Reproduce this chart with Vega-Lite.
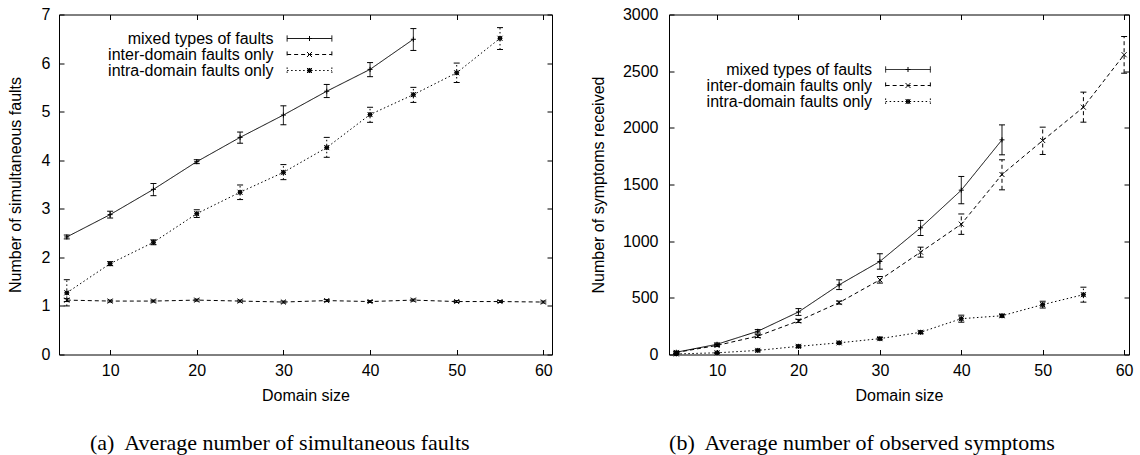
{
  "$schema": "https://vega.github.io/schema/vega-lite/v6.json",
  "padding": {"left": 6, "top": 5.5, "right": 0, "bottom": 0},
  "background": "white",
  "config": {
    "font": "Liberation Sans",
    "view": {"stroke": "black", "strokeWidth": 1},
    "axis": {"grid": false, "domain": false, "labelFontSize": 16, "titleFontSize": 16, "titleFontWeight": "normal", "labelColor": "black", "titleColor": "black", "tickColor": "black", "tickWidth": 1, "labelFont": "Liberation Sans", "titleFont": "Liberation Sans"},
    "legend": {"labelFontSize": 16, "labelColor": "black", "labelFont": "Liberation Sans", "labelLimit": 400},
    "title": {"font": "Liberation Serif", "fontSize": 22, "fontWeight": "normal", "color": "black"}
  },
  "datasets": {
    "a": [
      {"series": "mixed types of faults", "x": 5, "y": 2.42, "lo": 2.38, "hi": 2.46},
      {"series": "mixed types of faults", "x": 10, "y": 2.88, "lo": 2.81, "hi": 2.95},
      {"series": "mixed types of faults", "x": 15, "y": 3.40, "lo": 3.27, "hi": 3.52},
      {"series": "mixed types of faults", "x": 20, "y": 3.97, "lo": 3.93, "hi": 4.01},
      {"series": "mixed types of faults", "x": 25, "y": 4.47, "lo": 4.35, "hi": 4.58},
      {"series": "mixed types of faults", "x": 30, "y": 4.93, "lo": 4.73, "hi": 5.12},
      {"series": "mixed types of faults", "x": 35, "y": 5.42, "lo": 5.29, "hi": 5.56},
      {"series": "mixed types of faults", "x": 40, "y": 5.87, "lo": 5.72, "hi": 6.01},
      {"series": "mixed types of faults", "x": 45, "y": 6.49, "lo": 6.26, "hi": 6.71},
      {"series": "inter-domain faults only", "x": 5, "y": 1.12, "lo": 1.09, "hi": 1.15},
      {"series": "inter-domain faults only", "x": 10, "y": 1.10, "lo": 1.08, "hi": 1.12},
      {"series": "inter-domain faults only", "x": 15, "y": 1.10, "lo": 1.08, "hi": 1.12},
      {"series": "inter-domain faults only", "x": 20, "y": 1.12, "lo": 1.10, "hi": 1.14},
      {"series": "inter-domain faults only", "x": 25, "y": 1.10, "lo": 1.08, "hi": 1.12},
      {"series": "inter-domain faults only", "x": 30, "y": 1.08, "lo": 1.06, "hi": 1.10},
      {"series": "inter-domain faults only", "x": 35, "y": 1.11, "lo": 1.09, "hi": 1.13},
      {"series": "inter-domain faults only", "x": 40, "y": 1.09, "lo": 1.07, "hi": 1.11},
      {"series": "inter-domain faults only", "x": 45, "y": 1.12, "lo": 1.10, "hi": 1.14},
      {"series": "inter-domain faults only", "x": 50, "y": 1.09, "lo": 1.07, "hi": 1.11},
      {"series": "inter-domain faults only", "x": 55, "y": 1.09, "lo": 1.07, "hi": 1.11},
      {"series": "inter-domain faults only", "x": 60, "y": 1.08, "lo": 1.06, "hi": 1.10},
      {"series": "intra-domain faults only", "x": 5, "y": 1.27, "lo": 1.00, "hi": 1.54},
      {"series": "intra-domain faults only", "x": 10, "y": 1.87, "lo": 1.83, "hi": 1.91},
      {"series": "intra-domain faults only", "x": 15, "y": 2.31, "lo": 2.26, "hi": 2.36},
      {"series": "intra-domain faults only", "x": 20, "y": 2.90, "lo": 2.82, "hi": 2.98},
      {"series": "intra-domain faults only", "x": 25, "y": 3.34, "lo": 3.19, "hi": 3.49},
      {"series": "intra-domain faults only", "x": 30, "y": 3.75, "lo": 3.60, "hi": 3.91},
      {"series": "intra-domain faults only", "x": 35, "y": 4.26, "lo": 4.06, "hi": 4.47},
      {"series": "intra-domain faults only", "x": 40, "y": 4.94, "lo": 4.78, "hi": 5.09},
      {"series": "intra-domain faults only", "x": 45, "y": 5.35, "lo": 5.19, "hi": 5.50},
      {"series": "intra-domain faults only", "x": 50, "y": 5.80, "lo": 5.60, "hi": 6.00},
      {"series": "intra-domain faults only", "x": 55, "y": 6.51, "lo": 6.28, "hi": 6.73}
    ],
    "b": [
      {"series": "mixed types of faults", "x": 5, "y": 20, "lo": 10, "hi": 30},
      {"series": "mixed types of faults", "x": 10, "y": 90, "lo": 78, "hi": 102},
      {"series": "mixed types of faults", "x": 15, "y": 205, "lo": 190, "hi": 220},
      {"series": "mixed types of faults", "x": 20, "y": 375, "lo": 345, "hi": 405},
      {"series": "mixed types of faults", "x": 25, "y": 615, "lo": 573, "hi": 659},
      {"series": "mixed types of faults", "x": 30, "y": 821, "lo": 753, "hi": 889},
      {"series": "mixed types of faults", "x": 35, "y": 1118, "lo": 1050, "hi": 1183},
      {"series": "mixed types of faults", "x": 40, "y": 1450, "lo": 1330, "hi": 1571},
      {"series": "mixed types of faults", "x": 45, "y": 1894, "lo": 1762, "hi": 2026},
      {"series": "inter-domain faults only", "x": 5, "y": 18, "lo": 12, "hi": 24},
      {"series": "inter-domain faults only", "x": 10, "y": 80, "lo": 70, "hi": 90},
      {"series": "inter-domain faults only", "x": 15, "y": 162, "lo": 150, "hi": 174},
      {"series": "inter-domain faults only", "x": 20, "y": 296, "lo": 282, "hi": 310},
      {"series": "inter-domain faults only", "x": 25, "y": 458, "lo": 445, "hi": 471},
      {"series": "inter-domain faults only", "x": 30, "y": 659, "lo": 630, "hi": 688},
      {"series": "inter-domain faults only", "x": 35, "y": 903, "lo": 859, "hi": 947},
      {"series": "inter-domain faults only", "x": 40, "y": 1150, "lo": 1060, "hi": 1240},
      {"series": "inter-domain faults only", "x": 45, "y": 1588, "lo": 1453, "hi": 1718},
      {"series": "inter-domain faults only", "x": 50, "y": 1888, "lo": 1765, "hi": 2006},
      {"series": "inter-domain faults only", "x": 55, "y": 2182, "lo": 2050, "hi": 2315},
      {"series": "inter-domain faults only", "x": 60, "y": 2645, "lo": 2482, "hi": 2806},
      {"series": "intra-domain faults only", "x": 5, "y": 5, "lo": 0, "hi": 10},
      {"series": "intra-domain faults only", "x": 10, "y": 15, "lo": 10, "hi": 20},
      {"series": "intra-domain faults only", "x": 15, "y": 36, "lo": 30, "hi": 42},
      {"series": "intra-domain faults only", "x": 20, "y": 72, "lo": 62, "hi": 82},
      {"series": "intra-domain faults only", "x": 25, "y": 103, "lo": 95, "hi": 111},
      {"series": "intra-domain faults only", "x": 30, "y": 140, "lo": 130, "hi": 150},
      {"series": "intra-domain faults only", "x": 35, "y": 196, "lo": 185, "hi": 207},
      {"series": "intra-domain faults only", "x": 40, "y": 316, "lo": 285, "hi": 347},
      {"series": "intra-domain faults only", "x": 45, "y": 342, "lo": 330, "hi": 354},
      {"series": "intra-domain faults only", "x": 50, "y": 440, "lo": 410, "hi": 470},
      {"series": "intra-domain faults only", "x": 55, "y": 528, "lo": 462, "hi": 594}
    ]
  },
  "spacing": 37,
  "resolve": {"scale": {"shape": "independent", "strokeDash": "independent"}, "legend": {"shape": "independent", "strokeDash": "independent"}},
  "hconcat": [
    {
      "width": 493,
      "height": 340,
      "data": {"name": "a"},
      "title": {"text": "(a)\u00a0 Average number of simultaneous faults", "orient": "bottom", "frame": "bounds", "anchor": "middle", "offset": 29},
      "resolve": {"axis": {"x": "independent", "y": "independent"}},
      "layer": [
        {
          "mark": {"type": "line", "color": "black", "strokeWidth": 1},
          "encoding": {
            "x": {"field": "x", "type": "quantitative", "scale": {"domain": [4.1, 61], "nice": false, "zero": false}, "axis": {"title": "Domain size", "values": [10, 20, 30, 40, 50, 60], "tickSize": -5, "labelPadding": 13, "titlePadding": 9}},
            "y": {"field": "y", "type": "quantitative", "scale": {"domain": [0, 7], "nice": false}, "axis": {"title": "Number of simultaneous faults", "values": [0, 1, 2, 3, 4, 5, 6, 7], "tickSize": -5, "labelPadding": 14, "titlePadding": 18}},
            "strokeDash": {"field": "series", "type": "nominal", "scale": {"domain": ["mixed types of faults", "inter-domain faults only", "intra-domain faults only"], "range": [[1, 0], [4, 3], [1.5, 2.5]]},
              "legend": {"title": null, "orient": "none", "legendX": 242.5, "legendY": 16, "labelAlign": "right", "labelOffset": -44, "symbolSize": 125, "symbolType": "M-4,-0.55V0.55M-4,0H4M4,-0.55V0.55", "symbolStrokeWidth": 1, "rowPadding": -2.5, "padding": 0, "labelBaseline": "middle"}}
          }
        },
        {
          "mark": {"type": "rule", "color": "black", "strokeWidth": 1},
          "encoding": {
            "x": {"field": "x", "type": "quantitative", "axis": null},
            "y": {"field": "lo", "type": "quantitative", "axis": null},
            "y2": {"field": "hi"},
            "strokeDash": {"field": "series", "type": "nominal"}
          }
        },
        {
          "mark": {"type": "tick", "orient": "horizontal", "size": 6, "thickness": 1, "color": "black", "opacity": 1},
          "encoding": {
            "x": {"field": "x", "type": "quantitative", "axis": null},
            "y": {"field": "lo", "type": "quantitative", "axis": null}
          }
        },
        {
          "mark": {"type": "tick", "orient": "horizontal", "size": 6, "thickness": 1, "color": "black", "opacity": 1},
          "encoding": {
            "x": {"field": "x", "type": "quantitative", "axis": {"orient": "top", "labels": false, "title": null, "values": [10, 20, 30, 40, 50, 60], "tickSize": -5}},
            "y": {"field": "hi", "type": "quantitative", "axis": {"orient": "right", "labels": false, "title": null, "values": [0, 1, 2, 3, 4, 5, 6, 7], "tickSize": -5}}
          }
        },
        {
          "mark": {"type": "point", "filled": false, "color": "black", "size": 125, "strokeWidth": 1, "opacity": 1},
          "encoding": {
            "x": {"field": "x", "type": "quantitative", "axis": null},
            "y": {"field": "y", "type": "quantitative", "axis": null},
            "shape": {"field": "series", "type": "nominal", "scale": {"domain": ["mixed types of faults", "inter-domain faults only", "intra-domain faults only", "_"], "range": ["M-0.45,0H0.45M0,-0.45V0.45", "M-0.45,-0.45L0.45,0.45M-0.45,0.45L0.45,-0.45", "M-0.45,-0.45L0.45,0.45M-0.45,0.45L0.45,-0.45M-0.45,0H0.45M0,-0.45V0.45M-0.27,-0.27H0.27V0.27H-0.27Z", "M0,0"]},
              "legend": {"title": null, "values": ["mixed types of faults", "inter-domain faults only", "intra-domain faults only"], "orient": "none", "legendX": 242.5, "legendY": 16, "labelAlign": "right", "labelOffset": -44, "symbolSize": 125, "symbolStrokeWidth": 1, "rowPadding": -2.5, "padding": 0, "labelBaseline": "middle", "labelOpacity": 0}}
          }
        }
      ]
    },
    {
      "width": 460,
      "height": 340,
      "data": {"name": "b"},
      "title": {"text": "(b)\u00a0 Average number of observed symptoms", "orient": "bottom", "frame": "bounds", "anchor": "middle", "offset": 29},
      "resolve": {"axis": {"x": "independent", "y": "independent"}},
      "layer": [
        {
          "mark": {"type": "line", "color": "black", "strokeWidth": 1},
          "encoding": {
            "x": {"field": "x", "type": "quantitative", "scale": {"domain": [4.1, 60.6], "nice": false, "zero": false}, "axis": {"title": "Domain size", "values": [10, 20, 30, 40, 50, 60], "tickSize": -5, "labelPadding": 13, "titlePadding": 9}},
            "y": {"field": "y", "type": "quantitative", "scale": {"domain": [0, 3000], "nice": false}, "axis": {"title": "Number of symptoms received", "format": "d", "values": [0, 500, 1000, 1500, 2000, 2500, 3000], "tickSize": -5, "labelPadding": 16, "titlePadding": 15.5}},
            "strokeDash": {"field": "series", "type": "nominal", "scale": {"domain": ["mixed types of faults", "inter-domain faults only", "intra-domain faults only"], "range": [[1, 0], [4, 3], [1.5, 2.5]]},
              "legend": {"title": null, "orient": "none", "legendX": 231, "legendY": 47, "labelAlign": "right", "labelOffset": -44, "symbolSize": 125, "symbolType": "M-4,-0.55V0.55M-4,0H4M4,-0.55V0.55", "symbolStrokeWidth": 1, "rowPadding": -2.5, "padding": 0, "labelBaseline": "middle"}}
          }
        },
        {
          "mark": {"type": "rule", "color": "black", "strokeWidth": 1},
          "encoding": {
            "x": {"field": "x", "type": "quantitative", "axis": null},
            "y": {"field": "lo", "type": "quantitative", "axis": null},
            "y2": {"field": "hi"},
            "strokeDash": {"field": "series", "type": "nominal"}
          }
        },
        {
          "mark": {"type": "tick", "orient": "horizontal", "size": 6, "thickness": 1, "color": "black", "opacity": 1},
          "encoding": {
            "x": {"field": "x", "type": "quantitative", "axis": null},
            "y": {"field": "lo", "type": "quantitative", "axis": null}
          }
        },
        {
          "mark": {"type": "tick", "orient": "horizontal", "size": 6, "thickness": 1, "color": "black", "opacity": 1},
          "encoding": {
            "x": {"field": "x", "type": "quantitative", "axis": {"orient": "top", "labels": false, "title": null, "values": [10, 20, 30, 40, 50, 60], "tickSize": -5}},
            "y": {"field": "hi", "type": "quantitative", "axis": {"orient": "right", "labels": false, "title": null, "values": [0, 500, 1000, 1500, 2000, 2500, 3000], "tickSize": -5}}
          }
        },
        {
          "mark": {"type": "point", "filled": false, "color": "black", "size": 125, "strokeWidth": 1, "opacity": 1},
          "encoding": {
            "x": {"field": "x", "type": "quantitative", "axis": null},
            "y": {"field": "y", "type": "quantitative", "axis": null},
            "shape": {"field": "series", "type": "nominal", "scale": {"domain": ["mixed types of faults", "inter-domain faults only", "intra-domain faults only", "_"], "range": ["M-0.45,0H0.45M0,-0.45V0.45", "M-0.45,-0.45L0.45,0.45M-0.45,0.45L0.45,-0.45", "M-0.45,-0.45L0.45,0.45M-0.45,0.45L0.45,-0.45M-0.45,0H0.45M0,-0.45V0.45M-0.27,-0.27H0.27V0.27H-0.27Z", "M0,0"]},
              "legend": {"title": null, "values": ["mixed types of faults", "inter-domain faults only", "intra-domain faults only"], "orient": "none", "legendX": 231, "legendY": 47, "labelAlign": "right", "labelOffset": -44, "symbolSize": 125, "symbolStrokeWidth": 1, "rowPadding": -2.5, "padding": 0, "labelBaseline": "middle", "labelOpacity": 0}}
          }
        }
      ]
    }
  ]
}
